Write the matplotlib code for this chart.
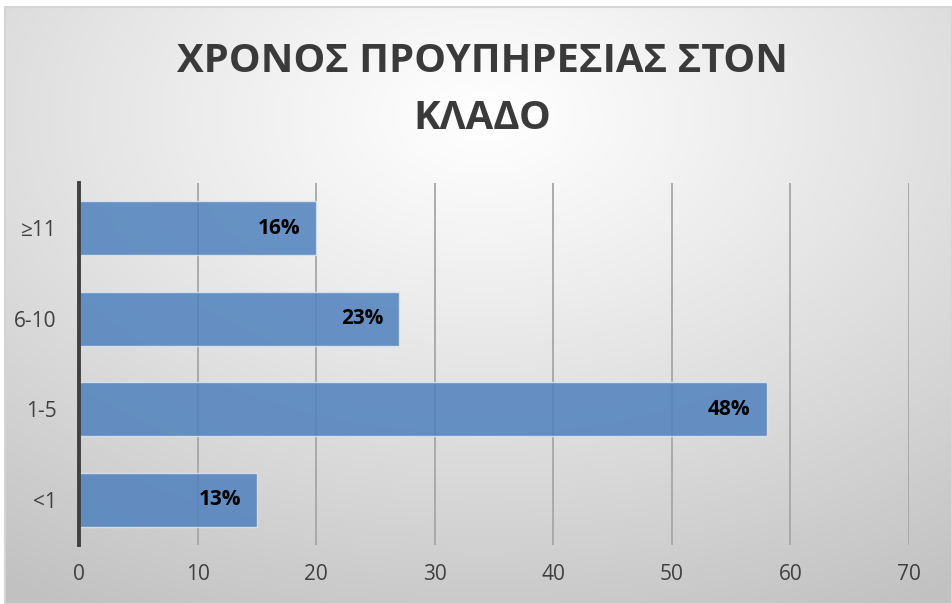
import numpy as np
import matplotlib
matplotlib.use("Agg")
import matplotlib.pyplot as plt
from matplotlib.patches import Rectangle

# Years of service in the sector
categories = ["<1", "1-5", "6-10", "≥11"]
counts = [15, 58, 27, 20]
pct_labels = ["13%", "48%", "23%", "16%"]
x_ticks = [0, 10, 20, 30, 40, 50, 60, 70]

title = "ΧΡΟΝΟΣ ΠΡΟΥΠΗΡΕΣΙΑΣ ΣΤΟΝ\nΚΛΑΔΟ"

W, H = 952, 604
fig = plt.figure(figsize=(W / 100, H / 100), dpi=100)
fig.patch.set_facecolor("white")

# radial gray gradient behind the chart area
bg = fig.add_axes([5 / W, 0, 1 - 5 / W, 1 - 7 / H], zorder=-2)
yy, xx = np.mgrid[0:600, 0:950]
cx, cy = 480, 110
d = np.sqrt(((xx - cx) / 950) ** 2 + ((yy - cy) / 620) ** 2)
d = np.clip(d / 0.9, 0, 1)
val = 1.0 - 0.24 * d ** 1.1
img = np.dstack([val, val, val])
bg.imshow(img, aspect="auto", extent=[0, 1, 0, 1], origin="upper", interpolation="bilinear")
bg.set_axis_off()
bg.add_patch(Rectangle((0, 0), 1, 1, transform=bg.transAxes, fill=False,
                       edgecolor="#d4d4d4", linewidth=1.5, clip_on=False))

ax = fig.add_axes([79 / W, 1 - 545 / H, (909 - 79) / W, (545 - 183) / H])
ax.set_facecolor("none")

y = np.arange(len(categories))
bars = ax.barh(y, counts, height=0.6, color="#4f81bd", alpha=0.85,
               edgecolor="#dce6f2", linewidth=1.0, zorder=3)

for yi, v, lab in zip(y, counts, pct_labels):
    ax.annotate(lab, xy=(v, yi), xytext=(-11.5, 0), textcoords="offset points",
                ha="right", va="center", fontsize=15, fontweight="bold",
                color="black", family="Open Sans", zorder=4)

ax.set_xlim(0, 70)
ax.set_ylim(-0.5, len(categories) - 0.5)
ax.set_xticks(x_ticks)
ax.set_yticks(y)
ax.set_yticklabels(categories)
ax.grid(axis="x", color="#a6a6a6", linewidth=1.3, zorder=0)
ax.grid(axis="y", visible=False)
ax.tick_params(axis="both", length=0, labelsize=15, labelcolor="#404040")
ax.tick_params(axis="x", pad=14)
ax.tick_params(axis="y", pad=16)
for lbl in ax.get_xticklabels() + ax.get_yticklabels():
    lbl.set_family("Open Sans")

for s in ["top", "right", "bottom"]:
    ax.spines[s].set_visible(False)
ax.spines["left"].set_color("#404040")
ax.spines["left"].set_linewidth(2.8)
ax.spines["left"].set_zorder(5)

fig.text(482 / W, 1 - 90 / H, title, ha="center", va="center", fontsize=28.8,
         fontweight="bold", color="#3a3a3a", family="Open Sans", linespacing=1.6)

fig.savefig("out.png", dpi=100)
